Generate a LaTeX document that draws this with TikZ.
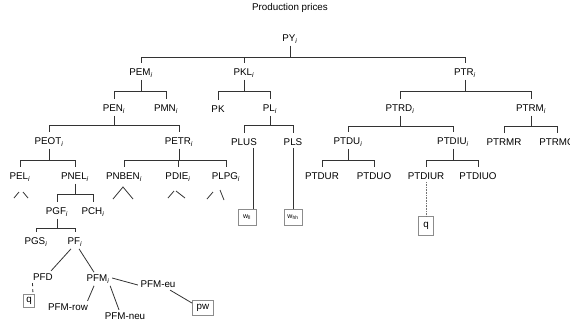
\documentclass[tikz,border=0pt]{standalone}
\usepackage{fontspec}
\setmainfont{Liberation Sans}
\newcommand{\subi}{\textsubscript{\textit{i}}}
\tikzset{
  lbl/.style={inner sep=2.5pt, font=\fontsize{9.8}{11}\selectfont},
  branch/.style={draw=black!80, line width=0.9pt, shorten >=3pt},
  stub/.style={draw=black!80, line width=0.8pt},
  valbox/.style={draw=black!45, line width=0.8pt, inner sep=1pt,
    font=\fontsize{9.8}{11}\selectfont},
}
\begin{document}
\begin{tikzpicture}[x=1pt,y=-1pt]
  \useasboundingbox (0,0) rectangle (570,325);
  % Title
  \node[lbl] (title) at (290,8) {Production prices};
  % Level 0 and 1
  \node[lbl] (PY) at (290,39) {PY\subi};
  \node[lbl] (PEM) at (141,73) {PEM\subi};
  \node[lbl] (PKL) at (244,73) {PKL\subi};
  \node[lbl] (PTR) at (465,73) {PTR\subi};
  % Level 2
  \node[lbl] (PEN) at (114,109) {PEN\subi};
  \node[lbl] (PMN) at (166,109) {PMN\subi};
  \node[lbl] (PK) at (218,109) {PK};
  \node[lbl] (PL) at (270,109) {PL\subi};
  \node[lbl] (PTRD) at (400,109) {PTRD\subi};
  \node[lbl] (PTRM) at (531,109) {PTRM\subi};
  % Level 3
  \node[lbl] (PEOT) at (49,142) {PEOT\subi};
  \node[lbl] (PETR) at (179,142) {PETR\subi};
  \node[lbl] (PLUS) at (244,142) {PLUS};
  \node[lbl] (PLS) at (293,142) {PLS};
  \node[lbl] (PTDU) at (348,142) {PTDU\subi};
  \node[lbl] (PTDIU) at (453,142) {PTDIU\subi};
  \node[lbl] (PTRMR) at (504,142) {PTRMR};
  \node[lbl] (PTRMO) at (557,142) {PTRMO};
  % Level 4
  \node[lbl] (PEL) at (20,177) {PEL\subi};
  \node[lbl] (PNEL) at (75,177) {PNEL\subi};
  \node[lbl] (PNBEN) at (124,177) {PNBEN\subi};
  \node[lbl] (PDIE) at (178,177) {PDIE\subi};
  \node[lbl] (PLPG) at (226,177) {PLPG\subi};
  \node[lbl] (PTDUR) at (322,176) {PTDUR};
  \node[lbl] (PTDUO) at (374,176) {PTDUO};
  \node[lbl] (PTDIUR) at (426,176) {PTDIUR};
  \node[lbl] (PTDIUO) at (478,176) {PTDIUO};
  % Fuel branch
  \node[lbl] (PGF) at (57,212) {PGF\subi};
  \node[lbl] (PCH) at (93,212) {PCH\subi};
  \node[lbl] (PGS) at (36,242) {PGS\subi};
  \node[lbl] (PF) at (75,242) {PF\subi};
  \node[lbl] (PFD) at (43,277) {PFD};
  \node[lbl] (PFM) at (98,279) {PFM\subi};
  \node[lbl] (PFMrow) at (68,307) {PFM-row};
  \node[lbl] (PFMneu) at (125,316) {PFM-neu};
  \node[lbl] (PFMeu) at (158,284) {PFM-eu};
  % Boxed values
  \node[valbox, minimum width=18pt, minimum height=16pt,
    font=\fontsize{7}{8}\selectfont] (wll) at (247,217) {w\textsubscript{ll}};
  \node[valbox, minimum width=18pt, minimum height=16pt,
    font=\fontsize{7}{8}\selectfont] (whh) at (293,217) {w\textsubscript{hh}};
  \node[valbox, minimum width=15pt, minimum height=19pt] (qtr) at (426,226) {q};
  \node[valbox, minimum width=11pt, minimum height=13pt] (qfd) at (29,301) {q};
  \node[valbox, minimum width=21pt, minimum height=15pt] (pw) at (203,308) {pw};

  % Tree bars
  \foreach \c in {PEM,PKL,PTR}
    \draw[branch] (PY.south) -- ([yshift=-18pt]PY.center) -| (\c.north);
  \foreach \c in {PEN,PMN}
    \draw[branch] (PEM.south) -- ([yshift=-18pt]PEM.center) -| (\c.north);
  \foreach \c in {PK,PL}
    \draw[branch] (PKL.south) -- ([yshift=-18pt]PKL.center) -| (\c.north);
  \foreach \c in {PTRD,PTRM}
    \draw[branch] (PTR.south) -- ([yshift=-18pt]PTR.center) -| (\c.north);
  \foreach \c in {PEOT,PETR}
    \draw[branch] (PEN.south) -- ([yshift=-16pt]PEN.center) -| (\c.north);
  \foreach \c in {PLUS,PLS}
    \draw[branch] (PL.south) -- ([yshift=-16pt]PL.center) -| (\c.north);
  \foreach \c in {PTDU,PTDIU}
    \draw[branch] (PTRD.south) -- ([yshift=-17pt]PTRD.center) -| (\c.north);
  \foreach \c in {PTRMR,PTRMO}
    \draw[branch] (PTRM.south) -- ([yshift=-17pt]PTRM.center) -| (\c.north);
  \foreach \c in {PEL,PNEL}
    \draw[branch] (PEOT.south) -- ([yshift=-18pt]PEOT.center) -| (\c.north);
  \foreach \c in {PNBEN,PDIE,PLPG}
    \draw[branch] (PETR.south) -- ([yshift=-18pt]PETR.center) -| (\c.north);
  \foreach \c in {PTDUR,PTDUO}
    \draw[branch] (PTDU.south) -- ([yshift=-18pt]PTDU.center) -| (\c.north);
  \foreach \c in {PTDIUR,PTDIUO}
    \draw[branch] (PTDIU.south) -- ([yshift=-18pt]PTDIU.center) -| (\c.north);
  \foreach \c in {PGF,PCH}
    \draw[branch] (PNEL.south) -- ([yshift=-17pt]PNEL.center) -| (\c.north);
  \foreach \c in {PGS,PF}
    \draw[branch] (PGF.south) -- ([yshift=-16pt]PGF.center) -| (\c.north);

  % Open stubs
  \draw[stub] ([shift={(-6,21)}]PEL.center) -- ([shift={(-1,15)}]PEL.center);
  \draw[stub] ([shift={(3,15)}]PEL.center) -- ([shift={(8,21)}]PEL.center);
  \draw[stub] ([shift={(-11,22)}]PNBEN.center) -- ([shift={(-1,10)}]PNBEN.center)
    -- ([shift={(9,22)}]PNBEN.center);
  \draw[stub] ([shift={(-10,21)}]PDIE.center) -- ([shift={(-4,14)}]PDIE.center);
  \draw[stub] ([shift={(-2,14)}]PDIE.center) -- ([shift={(7,21)}]PDIE.center);
  \draw[stub] ([shift={(-19,22)}]PLPG.center) -- ([shift={(-13,15)}]PLPG.center);
  \draw[stub] ([shift={(-6,13)}]PLPG.center) -- ([shift={(-2,23)}]PLPG.center);

  % Links to values
  \draw[stub] ([xshift=-3pt]wll.north east |- PLUS.south) -- ([xshift=-3pt]wll.north east);
  \draw[stub] (PLS.south) -- (whh.north);
  \draw[stub, black!55, densely dashed, dash pattern=on 1pt off 0.6pt]
    (PTDIUR.south) -- (qtr.north);
  \draw[stub, dashed] ([xshift=2pt]PFD.south west) -- ([xshift=-2pt,yshift=2pt]qfd.north east);

  % Fuel mix links
  \draw[stub] ([xshift=-4pt]PF.south) -- ([xshift=8pt]PFD.north);
  \draw[stub] ([xshift=4pt]PF.south) -- ([xshift=-4pt]PFM.north);
  \draw[stub] ([xshift=-4pt]PFM.south) -- ([xshift=-3pt]PFMrow.north east);
  \draw[stub] ([xshift=-2pt]PFM.south east) -- ([xshift=-6pt]PFMneu.north);
  \draw[stub] ([yshift=1pt]PFM.east) -- ([yshift=-1pt]PFMeu.west);
  \draw[stub] ([xshift=-8pt]PFMeu.south east) -- ([yshift=-3pt]pw.north west);
\end{tikzpicture}
\end{document}
